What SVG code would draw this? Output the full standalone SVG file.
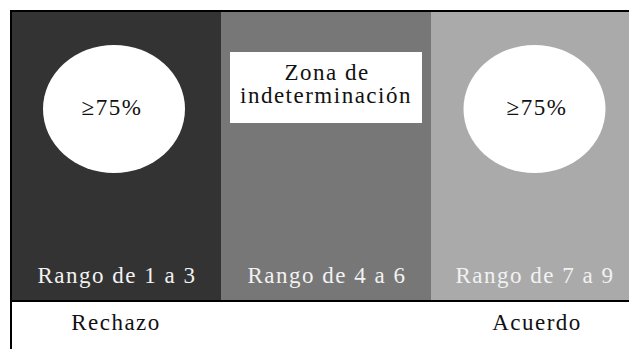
<svg xmlns="http://www.w3.org/2000/svg" width="629" height="349" viewBox="0 0 629 349">
<style>
.t{font-family:"Liberation Serif","Times New Roman",serif;font-size:23px;text-anchor:middle;letter-spacing:1.5px}
.w{fill:#f2f2f2}
.k{fill:#111}
</style>
<rect width="629" height="349" fill="#fff"/>
<g id="panel-rechazo">
<rect x="11" y="11" width="210" height="290" fill="#333333"/>
<ellipse cx="114" cy="109" rx="71" ry="64" fill="#fff"/>
<text class="t k" x="112" y="115">≥75%</text>
<text class="t w" x="117" y="283">Rango de 1 a 3</text>
</g>
<g id="panel-indet">
<rect x="221" y="11" width="210" height="290" fill="#777777"/>
<rect x="230" y="52" width="192" height="71" fill="#fff"/>
<text class="t k" x="327" y="80">Zona de</text>
<text class="t k" x="326" y="103">indeterminación</text>
<text class="t w" x="327" y="283">Rango de 4 a 6</text>
</g>
<g id="panel-acuerdo">
<rect x="431" y="11" width="198" height="290" fill="#aaaaaa"/>
<ellipse cx="534.5" cy="109" rx="71" ry="64" fill="#fff"/>
<text class="t k" x="537" y="115">≥75%</text>
<text class="t w" x="535" y="283">Rango de 7 a 9</text>
</g>
<g id="lines" stroke="#000" stroke-width="2" fill="none">
<line x1="10" y1="11" x2="629" y2="11"/>
<line x1="11" y1="10" x2="11" y2="349"/>
<line x1="10" y1="301" x2="629" y2="301"/>
</g>
<g id="labels">
<text class="t k" x="116" y="330">Rechazo</text>
<text class="t k" x="537" y="330">Acuerdo</text>
</g>
</svg>
